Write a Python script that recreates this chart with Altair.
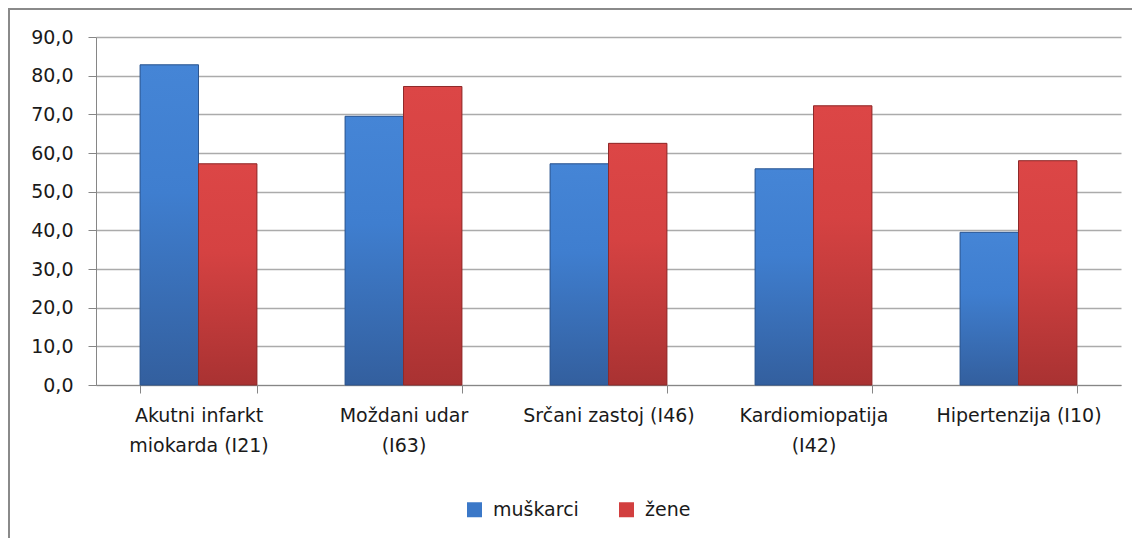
import altair as alt
import pandas as pd

categories = ["Akutni infarkt miokarda (I21)", "Moždani udar (I63)", "Srčani zastoj (I46)",
              "Kardiomiopatija (I42)", "Hipertenzija (I10)"]
label_lines = [["Akutni infarkt", "miokarda (I21)"], ["Moždani udar", "(I63)"],
               ["Srčani zastoj (I46)"], ["Kardiomiopatija", "(I42)"], ["Hipertenzija (I10)"]]
series = ["muškarci", "žene"]
muskarci = [82.8, 69.5, 57.2, 55.9, 39.5]
zene = [57.2, 77.2, 62.5, 72.2, 58.0]
y_ticks = [0, 10, 20, 30, 40, 50, 60, 70, 80, 90]
series_colors = ["#3b78c8", "#d23f3f"]

rows = []
for c, m, z in zip(categories, muskarci, zene):
    rows.append({"kategorija": c, "spol": series[0], "vrijednost": m})
    rows.append({"kategorija": c, "spol": series[1], "vrijednost": z})
df = pd.DataFrame(rows)

# label expression for multi-line x labels
expr = "datum.label"
for c, lines in reversed(list(zip(categories, label_lines))):
    arr = "[" + ",".join("'" + l + "'" for l in lines) + "]"
    expr = f"datum.label == '{c}' ? {arr} : ({expr})"

FONT = "DejaVu Sans"
FS = 19
W, H = 1025, 348

x_enc = alt.X("kategorija:N", sort=categories, title=None,
              scale=alt.Scale(paddingInner=0.43, paddingOuter=0.215),
              axis=alt.Axis(labelExpr=expr, labelAngle=0, labelFontSize=FS, labelFont=FONT,
                            labelColor="#1a1a1a", labelLineHeight=30, labelPadding=13,
                            labelBaseline="top", tickBand="extent", tickSize=8,
                            tickColor="#868686", domainColor="#868686", grid=False,
                            labelLimit=300))
xo_enc = alt.XOffset("spol:N", sort=series, scale=alt.Scale(paddingInner=0, paddingOuter=0))
y_enc = alt.Y("vrijednost:Q", title=None,
              scale=alt.Scale(domain=[0, 90], nice=False),
              axis=alt.Axis(values=y_ticks,
                            labelExpr="replace(format(datum.value, '.1f'), '.', ',')",
                            labelFontSize=FS, labelFont=FONT, labelColor="#1a1a1a",
                            labelPadding=15, tickSize=8, tickColor="#868686",
                            domainColor="#868686", gridColor="#ababab", gridWidth=1.6))

base = alt.Chart(df).encode(x=x_enc, xOffset=xo_enc, y=y_enc)

flat = base.mark_bar().encode(
    color=alt.Color("spol:N", sort=series,
                    scale=alt.Scale(domain=series, range=series_colors),
                    legend=alt.Legend(title=None, orient="none", direction="horizontal",
                                      legendX=369, legendY=463, symbolType="square",
                                      symbolSize=225, symbolStrokeWidth=0,
                                      labelFontSize=FS, labelFont=FONT, labelColor="#1a1a1a",
                                      columnPadding=38, labelOffset=9, padding=0))
)

def grad(c_top, c_mid, c_bot):
    return alt.Gradient(gradient="linear", x1=0, x2=0, y1=0, y2=1,
                        stops=[alt.GradientStop(color=c_top, offset=0),
                               alt.GradientStop(color=c_mid, offset=0.4),
                               alt.GradientStop(color=c_bot, offset=1)])

blue = base.transform_filter(alt.datum.spol == series[0]).mark_bar(
    color=grad("#4585d6", "#3f7ecf", "#335f9e"), stroke="#2d558e", strokeWidth=1)
red = base.transform_filter(alt.datum.spol == series[1]).mark_bar(
    color=grad("#dc4646", "#d54242", "#a93232"), stroke="#8e2a2a", strokeWidth=1)

border = alt.Chart(pd.DataFrame({"b": [0]})).mark_rect(
    fill="transparent", stroke="#8a8a8a", strokeWidth=2).encode(
    x=alt.value(-87), y=alt.value(-28), x2=alt.value(W + 60), y2=alt.value(H + 300))

chart = alt.layer(flat, blue, red, border).properties(
    width=W, height=H,
    autosize=alt.AutoSizeParams(type="none"),
    padding={"left": 88, "top": 29, "right": 11, "bottom": 153},
    background="white",
).configure_view(stroke=None)

chart.save("out.html", embed_options={"renderer": "svg", "actions": False})
